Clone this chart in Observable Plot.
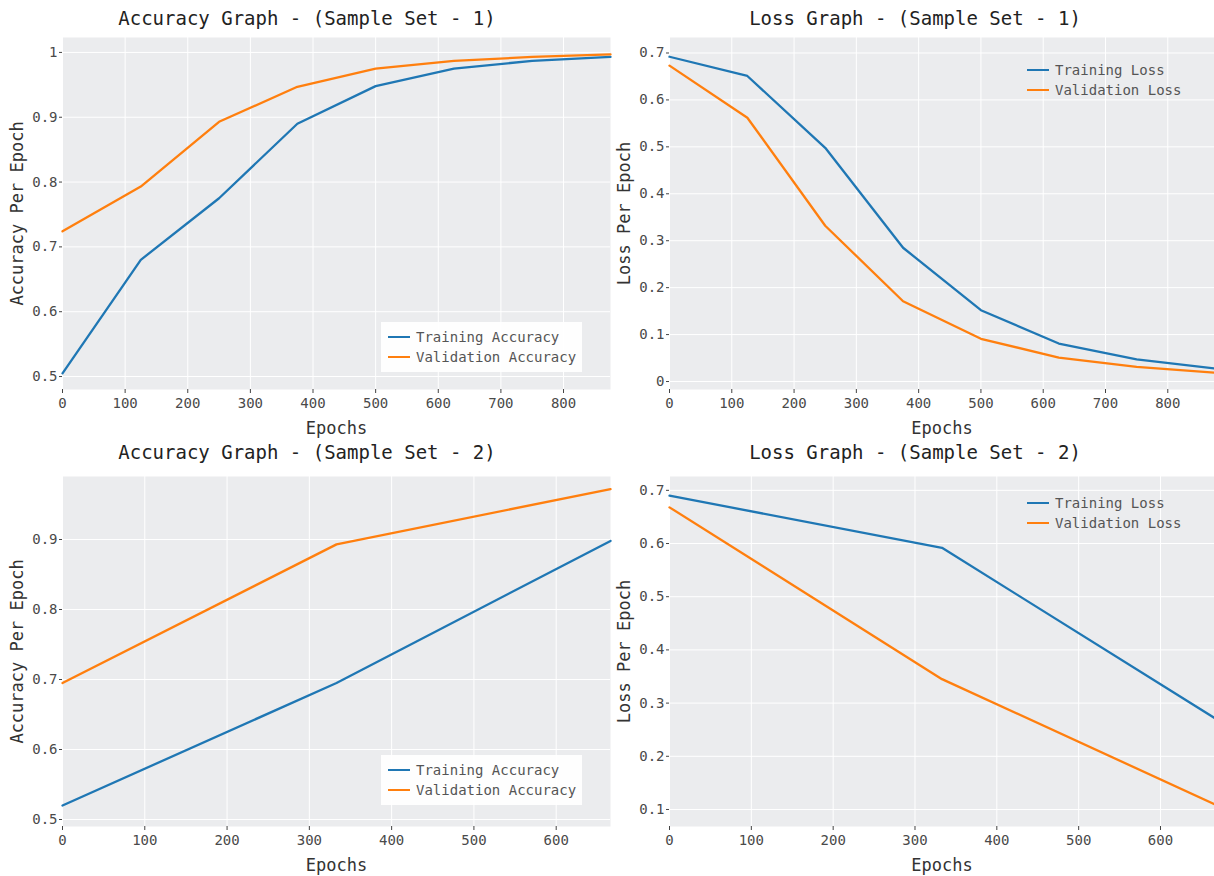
<!DOCTYPE html>
<html>
<head>
<meta charset="utf-8">
<script src="https://cdn.jsdelivr.net/npm/d3@7"></script>
<script src="https://cdn.jsdelivr.net/npm/@observablehq/plot@0.6"></script>
<style>
  html, body { margin: 0; padding: 0; background: #ffffff; }
  #root { position: relative; width: 1214px; height: 876px; overflow: hidden; font-family: "DejaVu Sans Mono", "Liberation Mono", monospace; }
  .panel { position: absolute; }
  .title { position: absolute; font-size: 19px; color: #222; white-space: nowrap; transform: translate(-50%, -50%); }
  .legend { position: absolute; font-size: 14px; color: #555; white-space: nowrap; }
  .legend.boxed { background: rgba(255,255,255,0.92); }
  .legend .row { display: flex; align-items: center; height: 20px; }
  .legend .sw { width: 22px; height: 2.4px; margin-right: 6px; }
</style>
</head>
<body>
<div id="root"></div>
<script>
// ---------------- Data ----------------
const epochs1 = [0, 125, 250, 375, 500, 625, 750, 875];
const trainAcc1 = [0.505, 0.680, 0.775, 0.890, 0.948, 0.975, 0.987, 0.993];
const valAcc1   = [0.724, 0.793, 0.893, 0.947, 0.975, 0.987, 0.993, 0.997];
const trainLoss1 = [0.692, 0.651, 0.498, 0.285, 0.152, 0.081, 0.047, 0.028];
const valLoss1   = [0.673, 0.562, 0.332, 0.171, 0.091, 0.051, 0.031, 0.019];

const epochs2 = [0, 333, 666];
const trainAcc2 = [0.520, 0.695, 0.898];
const valAcc2   = [0.695, 0.893, 0.972];
const trainLoss2 = [0.690, 0.592, 0.272];
const valLoss2   = [0.668, 0.345, 0.110];

const xTicks1 = [0, 100, 200, 300, 400, 500, 600, 700, 800];
const xTicks2 = [0, 100, 200, 300, 400, 500, 600];
const accTicks1 = [0.5, 0.6, 0.7, 0.8, 0.9, 1.0];
const lossTicks1 = [0, 0.1, 0.2, 0.3, 0.4, 0.5, 0.6, 0.7];
const accTicks2 = [0.5, 0.6, 0.7, 0.8, 0.9];
const lossTicks2 = [0.1, 0.2, 0.3, 0.4, 0.5, 0.6, 0.7];

const titles = [
  "Accuracy Graph - (Sample Set - 1)",
  "Loss Graph - (Sample Set - 1)",
  "Accuracy Graph - (Sample Set - 2)",
  "Loss Graph - (Sample Set - 2)"
];
const accSeries = ["Training Accuracy", "Validation Accuracy"];
const lossSeries = ["Training Loss", "Validation Loss"];
const seriesColors = ["#1f77b4", "#ff7f0e"];

// ---------------- Helpers ----------------
function toRows(epochs, a, b, names) {
  const rows = [];
  epochs.forEach((e, i) => rows.push({epoch: e, value: a[i], series: names[0]}));
  epochs.forEach((e, i) => rows.push({epoch: e, value: b[i], series: names[1]}));
  return rows;
}
const fmt = d => String(+d.toFixed(1));

function panel(cfg) {
  const rows = toRows(cfg.epochs, cfg.a, cfg.b, cfg.names);
  const fontFamily = '"DejaVu Sans Mono", "Liberation Mono", monospace';
  const svg = Plot.plot({
    width: cfg.width,
    height: cfg.height,
    marginTop: 0,
    marginLeft: cfg.marginLeft,
    marginRight: cfg.marginRight,
    marginBottom: cfg.marginBottom,
    style: {background: "transparent", fontFamily, fontSize: "14px", color: "#4a4a4a"},
    x: {domain: cfg.xDomain},
    y: {domain: cfg.yDomain},
    color: {domain: cfg.names, range: seriesColors},
    marks: [
      Plot.frame({fill: "#ebecee", stroke: null}),
      Plot.gridX(cfg.xTicks, {stroke: "#ffffff", strokeOpacity: 1, strokeWidth: 1}),
      Plot.gridY(cfg.yTicks, {stroke: "#ffffff", strokeOpacity: 1, strokeWidth: 1}),
      Plot.axisX(cfg.xTicks, {tickFormat: d => String(d), tickSize: 4, tickPadding: 5, stroke: "#444",
        label: "Epochs", labelAnchor: "center", labelOffset: 44, labelArrow: "none", fontSize: 14}),
      Plot.axisY(cfg.yTicks, {tickFormat: fmt, tickSize: 3, tickPadding: 2, stroke: "#444",
        label: cfg.yLabel, labelAnchor: "center", labelOffset: cfg.labelOffsetY, labelArrow: "none", fontSize: 14}),
      Plot.line(rows, {x: "epoch", y: "value", z: "series", stroke: "series", strokeWidth: 2.3})
    ]
  });
  svg.querySelectorAll("[aria-label='x-axis label'] text, [aria-label='y-axis label'] text").forEach(t => {
    t.style.fontSize = "17px"; t.setAttribute("fill", "#333");
  });
  svg.querySelectorAll("[aria-label='x-axis label'], [aria-label='y-axis label']").forEach(g => {
    g.setAttribute("font-size", "17px"); g.setAttribute("fill", "#333");
  });
  const wrap = document.createElement("div");
  wrap.className = "panel";
  wrap.style.left = cfg.left + "px";
  wrap.style.top = cfg.top + "px";
  wrap.appendChild(svg);
  root.appendChild(wrap);

  const t = document.createElement("div");
  t.className = "title";
  t.textContent = cfg.title;
  t.style.left = cfg.titleX + "px";
  t.style.top = cfg.titleY + "px";
  root.appendChild(t);

  const lg = document.createElement("div");
  lg.className = "legend" + (cfg.legendBoxed ? " boxed" : "");
  lg.style.left = cfg.legend[0] + "px";
  lg.style.top = cfg.legend[1] + "px";
  lg.style.padding = cfg.legendBoxed ? "5px 6px 5px 7px" : "0";
  cfg.names.forEach((n, i) => {
    const r = document.createElement("div");
    r.className = "row";
    const s = document.createElement("div");
    s.className = "sw";
    s.style.background = seriesColors[i];
    const tx = document.createElement("span");
    tx.textContent = n;
    r.appendChild(s); r.appendChild(tx);
    lg.appendChild(r);
  });
  root.appendChild(lg);
}

const root = document.getElementById("root");

panel({left: 0, top: 37, width: 612, height: 401, marginLeft: 62, marginRight: 2, marginBottom: 49,
  epochs: epochs1, a: trainAcc1, b: valAcc1, names: accSeries,
  xDomain: [0, 875], yDomain: [0.48, 1.023], xTicks: xTicks1, yTicks: accTicks1,
  yLabel: "Accuracy Per Epoch", labelOffsetY: 52,
  title: titles[0], titleX: 307, titleY: 18, legend: [381, 322], legendBoxed: true});

panel({left: 612, top: 37, width: 602, height: 401, marginLeft: 57, marginRight: 0, marginBottom: 49,
  epochs: epochs1, a: trainLoss1, b: valLoss1, names: lossSeries,
  xDomain: [0, 875], yDomain: [-0.017, 0.733], xTicks: xTicks1, yTicks: lossTicks1,
  yLabel: "Loss Per Epoch", labelOffsetY: 52,
  title: titles[1], titleX: 915, titleY: 18, legend: [1027, 60], legendBoxed: false});

panel({left: 0, top: 476, width: 612, height: 400, marginLeft: 62, marginRight: 2, marginBottom: 50,
  epochs: epochs2, a: trainAcc2, b: valAcc2, names: accSeries,
  xDomain: [0, 666], yDomain: [0.49, 0.99], xTicks: xTicks2, yTicks: accTicks2,
  yLabel: "Accuracy Per Epoch", labelOffsetY: 52,
  title: titles[2], titleX: 307, titleY: 452, legend: [381, 755], legendBoxed: true});

panel({left: 612, top: 476, width: 602, height: 400, marginLeft: 57, marginRight: 0, marginBottom: 50,
  epochs: epochs2, a: trainLoss2, b: valLoss2, names: lossSeries,
  xDomain: [0, 666], yDomain: [0.068, 0.726], xTicks: xTicks2, yTicks: lossTicks2,
  yLabel: "Loss Per Epoch", labelOffsetY: 52,
  title: titles[3], titleX: 915, titleY: 452, legend: [1027, 493], legendBoxed: false});
</script>
</body>
</html>
